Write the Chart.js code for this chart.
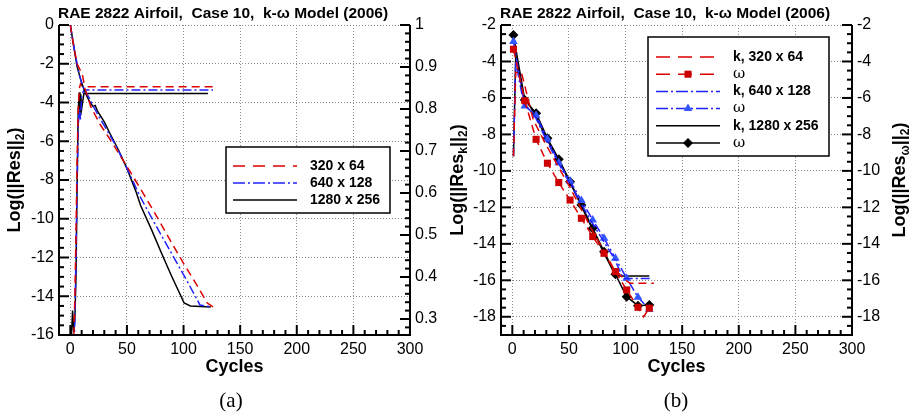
<!DOCTYPE html>
<html>
<head>
<meta charset="utf-8">
<script src="https://cdn.jsdelivr.net/npm/chart.js@4.4.1/dist/chart.umd.min.js"></script>
<style>
  html, body { margin: 0; padding: 0; background: #fff; }
  #wrap { position: relative; width: 911px; height: 418px; overflow: hidden; }
  #chartA { position: absolute; left: 0; top: 0; }
  #chartB { position: absolute; left: 442px; top: 0; }
</style>
</head>
<body>
<div id="wrap">
  <canvas id="chartA" width="442" height="418"></canvas>
  <canvas id="chartB" width="469" height="418"></canvas>
</div>
<script>
const titleText = 'RAE 2822 Airfoil,  Case 10,  k-\u03c9 Model (2006)';
const gridLabels = ['320 x 64', '640 x 128', '1280 x 256'];

// (a) residual, left axis
const res320Cycles = [0, 3, 6, 8.5, 10.5, 13, 18, 26, 35, 50, 64, 78, 90, 100, 112, 121, 126];
const res320 = [0, -1.1, -2.0, -2.3, -2.5, -3.3, -4.2, -5.1, -5.9, -7.3, -8.65, -10.05, -11.3, -12.3, -13.45, -14.35, -14.55];
const res640Cycles = [0, 4, 8, 12, 16, 24, 40, 50, 62, 77, 90, 103, 114.5, 124];
const res640 = [0, -1.4, -2.6, -3.3, -3.7, -4.6, -6.2, -7.4, -8.9, -10.5, -11.85, -13.2, -14.45, -14.55];
const res1280Cycles = [0, 3, 6, 10, 14, 17, 20, 22, 24, 30, 35, 42.5, 50, 58, 62, 72, 80, 89, 100.5, 106, 124];
const res1280 = [0, -1.1, -2.15, -3.0, -3.6, -3.95, -4.2, -4.15, -4.45, -5.0, -5.6, -6.45, -7.4, -8.6, -9.3, -10.6, -11.7, -12.9, -14.35, -14.5, -14.55];

// (a) second quantity, right axis
const cl320Cycles = [2.5, 4, 5, 6, 7, 8, 9, 11, 126];
const cl320 = [0.2, 0.35, 0.5, 0.68, 0.8, 0.85, 0.86, 0.853, 0.853];
const cl640Cycles = [3, 4, 5, 6, 7, 8, 9, 10, 12, 126];
const cl640 = [0.2, 0.3, 0.45, 0.62, 0.76, 0.8, 0.775, 0.83, 0.845, 0.845];
const cl1280Cycles = [1, 2, 3, 4, 5, 6, 7, 8, 8.5, 9.2, 10, 12, 121.5];
const cl1280 = [0.26, 0.32, 0.27, 0.3, 0.4, 0.62, 0.8, 0.84, 0.78, 0.835, 0.8, 0.837, 0.837];

// (b) k and omega residuals
const k320Cycles = [1, 3, 8, 18.5, 30, 40, 50, 60, 70, 80, 90, 100, 104, 125];
const k320 = [-9.2, -4.6, -4.6, -7.2, -8.6, -9.7, -10.8, -12.0, -13.2, -14.3, -15.4, -16.0, -16.16, -16.16];
const w320Cycles = [1, 11, 21, 31, 41, 51, 61, 71, 81, 91, 101, 111, 116, 121];
const w320 = [-3.33, -6.15, -8.27, -9.58, -10.64, -11.6, -12.6, -13.6, -14.52, -15.52, -16.53, -17.48, -18.0, -17.53];
const k640Cycles = [1, 3, 10, 20, 30, 40, 50, 60, 70, 80, 90, 98, 123];
const k640 = [-9.2, -4.0, -6.3, -7.0, -8.3, -9.5, -10.6, -11.7, -12.8, -13.8, -14.8, -15.9, -15.9];
const w640Cycles = [1, 11, 21, 31, 41, 51, 61, 71, 81, 91, 101, 111, 121];
const w640 = [-2.91, -6.44, -6.95, -8.25, -9.55, -10.55, -11.63, -12.69, -13.69, -14.79, -15.89, -16.93, -17.59];
const k1280Cycles = [1, 3, 10, 20, 30, 40, 50, 60, 70, 80, 90, 91.5, 121];
const k1280 = [-9.2, -3.7, -5.9, -6.9, -8.2, -9.3, -10.5, -11.8, -13.1, -14.4, -15.6, -15.76, -15.76];
const w1280Cycles = [1, 11, 21, 31, 41, 51, 61, 71, 81, 91, 101, 111, 121];
const w1280 = [-2.55, -6.11, -6.84, -8.21, -9.36, -10.59, -11.87, -13.15, -14.43, -15.67, -16.9, -17.39, -17.35];

const xTicks = [0, 50, 100, 150, 200, 250, 300];
const yTicksA = [0, -2, -4, -6, -8, -10, -12, -14, -16];
const y2TicksA = [0.3, 0.4, 0.5, 0.6, 0.7, 0.8, 0.9, 1];
const yTicksB = [-2, -4, -6, -8, -10, -12, -14, -16, -18];

const RED = '#dd0000', BLUE = '#2222ff', BLACK = '#000000';
const DASH = [8, 5], DASHDOT = [9, 3, 2, 3];
const SANS = '"Liberation Sans", Arial, sans-serif';

const pts = (xs, ys) => xs.map((x, i) => ({ x: x, y: ys[i] }));

function line(label, xs, ys, color, dash, axis, extra) {
  return Object.assign({
    label: label,
    data: pts(xs, ys),
    borderColor: color,
    backgroundColor: color,
    borderWidth: 1.5,
    borderDash: dash,
    pointRadius: 0,
    tension: 0,
    yAxisID: axis
  }, extra || {});
}

// markers only every 10 cycles
const markerRadius = c => (c.raw ? ((c.raw.x - 1) % 10 === 0 ? 5 : 0) : 5);

function drawMarker(ctx, style, x, y, r, color) {
  ctx.save();
  ctx.setLineDash([]);
  ctx.fillStyle = color;
  ctx.beginPath();
  if (style === 'rect') {
    const s = r * Math.SQRT1_2;
    ctx.rect(x - s, y - s, 2 * s, 2 * s);
  } else if (style === 'triangle') {
    const h = r * 1.5, w = r * Math.sqrt(3);
    ctx.moveTo(x - w / 2, y + h / 3);
    ctx.lineTo(x + w / 2, y + h / 3);
    ctx.lineTo(x, y - 2 * h / 3);
    ctx.closePath();
  } else {
    ctx.moveTo(x - r, y); ctx.lineTo(x, y - r); ctx.lineTo(x + r, y); ctx.lineTo(x, y + r);
    ctx.closePath();
  }
  ctx.fill();
  ctx.restore();
}

function richText(ctx, segs, cx, cy, size) {
  ctx.save();
  ctx.translate(cx, cy);
  ctx.rotate(-Math.PI / 2);
  const big = 'bold ' + size + 'px ' + SANS;
  const small = 'bold ' + Math.round(size * 0.65) + 'px ' + SANS;
  let w = 0;
  segs.forEach(s => { ctx.font = s[1] ? small : big; w += ctx.measureText(s[0]).width; });
  let x = -w / 2;
  ctx.textBaseline = 'middle';
  ctx.textAlign = 'left';
  ctx.fillStyle = '#000';
  segs.forEach(s => {
    ctx.font = s[1] ? small : big;
    ctx.fillText(s[0], x, s[1] ? size * 0.3 : 0);
    x += ctx.measureText(s[0]).width;
  });
  ctx.restore();
}

const decor = {
  id: 'decor',
  afterDatasetsDraw(chart, args, o) {
    const { ctx, chartArea: a, scales } = chart;
    ctx.save();
    ctx.strokeStyle = '#000';
    ctx.lineWidth = 2;
    ctx.setLineDash([]);
    ctx.beginPath();
    ctx.moveTo(a.left, a.top); ctx.lineTo(a.left, a.bottom);
    ctx.lineTo(a.right, a.bottom); ctx.lineTo(a.right, a.top);
    ctx.stroke();

    // inward ticks, major and minor
    o.ticks.forEach(t => {
      const s = scales[t.id];
      const n0 = Math.ceil(s.min / t.minor - 1e-9), n1 = Math.floor(s.max / t.minor + 1e-9);
      for (let n = n0; n <= n1; n++) {
        const v = n * t.minor;
        const r = v / t.major;
        const len = Math.abs(r - Math.round(r)) < 1e-6 ? 10 : 5;
        const p = s.getPixelForValue(v);
        ctx.beginPath();
        if (s.isHorizontal()) { ctx.moveTo(p, a.bottom); ctx.lineTo(p, a.bottom - len); }
        else if (s.position === 'left') { ctx.moveTo(a.left, p); ctx.lineTo(a.left + len, p); }
        else { ctx.moveTo(a.right, p); ctx.lineTo(a.right - len, p); }
        ctx.stroke();
      }
    });

    // legend box
    const L = o.legend;
    ctx.fillStyle = '#fff';
    ctx.fillRect(L.x, L.y, L.w, L.h);
    ctx.lineWidth = 1.5;
    ctx.strokeRect(L.x, L.y, L.w, L.h);
    L.items.forEach((di, i) => {
      const ds = chart.data.datasets[di];
      const y = L.firstRow + i * L.rowH;
      ctx.strokeStyle = ds.borderColor;
      ctx.lineWidth = ds.borderWidth;
      ctx.setLineDash(ds.legendDash || []);
      ctx.beginPath();
      ctx.moveTo(L.sampleX, y); ctx.lineTo(L.sampleX + L.sampleW, y);
      ctx.stroke();
      if (ds.marker) drawMarker(ctx, ds.pointStyle, L.sampleX + L.sampleW / 2, y, 5, ds.pointBackgroundColor);
      ctx.fillStyle = '#000';
      ctx.textAlign = 'left';
      ctx.textBaseline = 'middle';
      ctx.font = ds.label === '\u03c9' ? '15px "DejaVu Serif", serif' : 'bold 14px ' + SANS;
      ctx.fillText(ds.label, L.textX, y);
    });
    ctx.restore();
  },
  afterDraw(chart, args, o) {
    const { ctx, chartArea: a } = chart;
    ctx.save();
    ctx.fillStyle = '#000';
    ctx.textAlign = 'center';
    ctx.textBaseline = 'middle';
    ctx.font = 'bold 15.5px ' + SANS;
    ctx.fillText(o.title, o.titleX, 14);
    ctx.font = 'bold 18px ' + SANS;
    ctx.fillText(o.xTitle, (a.left + a.right) / 2, 367);
    ctx.font = '21px "Liberation Serif", "DejaVu Serif", serif';
    ctx.fillText(o.panel, o.panelX, 401);
    ctx.restore();
    const cy = (a.top + a.bottom) / 2;
    richText(ctx, o.yTitle, o.yTitleX, cy, 18);
    if (o.y2Title) richText(ctx, o.y2Title, o.y2TitleX, cy, 18);
  }
};

function axisX() {
  return {
    type: 'linear', min: -10, max: 300,
    afterBuildTicks: s => { s.ticks = xTicks.map(v => ({ value: v })); },
    afterFit: s => { s.height = 83; },
    grid: { color: '#8a8a8a', lineWidth: 1, drawTicks: false },
    border: { display: false, dash: [1, 2] },
    ticks: { color: '#000', font: { family: SANS, size: 16 }, padding: 5, maxRotation: 0, autoSkip: false }
  };
}

function axisY(pos, min, max, tickList, width, showGrid, fmt) {
  return {
    type: 'linear', position: pos, min: min, max: max,
    afterBuildTicks: s => { s.ticks = tickList.map(v => ({ value: v })); },
    afterFit: s => { s.width = width; },
    grid: { display: showGrid, color: '#8a8a8a', lineWidth: 1, drawTicks: false },
    border: { display: false, dash: [1, 2] },
    ticks: { color: '#000', font: { family: SANS, size: 16 }, padding: 5, autoSkip: false,
      callback: fmt || (v => String(v)) }
  };
}

const common = {
  responsive: false,
  animation: false,
  devicePixelRatio: 1,
  layout: { padding: { top: 25, left: 0, right: 0, bottom: 0 } },
  plugins: { legend: { display: false }, tooltip: { enabled: false } }
};

new Chart(document.getElementById('chartA'), {
  type: 'line',
  data: {
    datasets: [
      line(gridLabels[0], res320Cycles, res320, RED, DASH, 'y', { legendDash: [12, 8] }),
      line(gridLabels[1], res640Cycles, res640, BLUE, DASHDOT, 'y', { legendDash: [12, 3, 2, 3] }),
      line(gridLabels[2], res1280Cycles, res1280, BLACK, [], 'y', { legendDash: [] }),
      line('CL ' + gridLabels[0], cl320Cycles, cl320, RED, DASH, 'y2'),
      line('CL ' + gridLabels[1], cl640Cycles, cl640, BLUE, DASHDOT, 'y2'),
      line('CL ' + gridLabels[2], cl1280Cycles, cl1280, BLACK, [], 'y2')
    ]
  },
  options: Object.assign({}, common, {
    scales: {
      x: axisX(),
      y: axisY('left', -16, 0, yTicksA, 59, true),
      y2: axisY('right', 1 - 310 / 420, 1, y2TicksA, 32, false, v => (v === 1 ? '1' : v.toFixed(1)))
    },
    plugins: Object.assign({}, common.plugins, {
      decor: {
        title: titleText, titleX: 223,
        xTitle: 'Cycles', panel: '(a)', panelX: 231,
        yTitle: [['Log(||Res||', 0], ['2', 1], [')', 0]], yTitleX: 15,
        y2Title: null,
        ticks: [{ id: 'x', minor: 10, major: 50 }, { id: 'y', minor: 0.5, major: 2 }, { id: 'y2', minor: 0.02, major: 0.1 }],
        legend: { x: 226, y: 147, w: 164, h: 66, firstRow: 166, rowH: 17, sampleX: 233, sampleW: 64, textX: 310, items: [0, 1, 2] }
      }
    })
  }),
  plugins: [decor]
});

new Chart(document.getElementById('chartB'), {
  type: 'line',
  data: {
    datasets: [
      line('k, ' + gridLabels[0], k320Cycles, k320, RED, DASH, 'y', { legendDash: [14, 8] }),
      line('\u03c9', w320Cycles, w320, RED, DASH, 'y', { legendDash: [14, 8], marker: true, pointStyle: 'rect', pointRadius: markerRadius, pointBackgroundColor: '#cc0000', pointBorderColor: '#cc0000', pointBorderWidth: 0 }),
      line('k, ' + gridLabels[1], k640Cycles, k640, BLUE, DASHDOT, 'y', { legendDash: [12, 3, 2, 3] }),
      line('\u03c9', w640Cycles, w640, BLUE, DASHDOT, 'y', { legendDash: [12, 3, 2, 3], marker: true, pointStyle: 'triangle', pointRadius: markerRadius, pointBackgroundColor: '#3355ff', pointBorderColor: '#3355ff', pointBorderWidth: 0 }),
      line('k, ' + gridLabels[2], k1280Cycles, k1280, BLACK, [], 'y', { legendDash: [] }),
      line('\u03c9', w1280Cycles, w1280, BLACK, [], 'y', { legendDash: [], marker: true, pointStyle: 'rectRot', pointRadius: markerRadius, pointBackgroundColor: '#000', pointBorderColor: '#000', pointBorderWidth: 0 })
    ]
  },
  options: Object.assign({}, common, {
    scales: {
      x: axisX(),
      y: axisY('left', -19, -2, yTicksB, 59, true),
      y2: axisY('right', -19, -2, yTicksB, 59, false)
    },
    plugins: Object.assign({}, common.plugins, {
      decor: {
        title: titleText, titleX: 223,
        xTitle: 'Cycles', panel: '(b)', panelX: 234,
        yTitle: [['Log(||Res', 0], ['k', 1], ['||', 0], ['2', 1], [')', 0]], yTitleX: 16,
        y2Title: [['Log(||Res', 0], ['\u03c9', 1], ['||', 0], ['2', 1], [')', 0]], y2TitleX: 458,
        ticks: [{ id: 'x', minor: 10, major: 50 }, { id: 'y', minor: 0.5, major: 2 }, { id: 'y2', minor: 0.5, major: 2 }],
        legend: { x: 206, y: 37, w: 181, h: 119, firstRow: 57, rowH: 17.2, sampleX: 214, sampleW: 64, textX: 291, items: [0, 1, 2, 3, 4, 5] }
      }
    })
  }),
  plugins: [decor]
});
</script>
</body>
</html>
